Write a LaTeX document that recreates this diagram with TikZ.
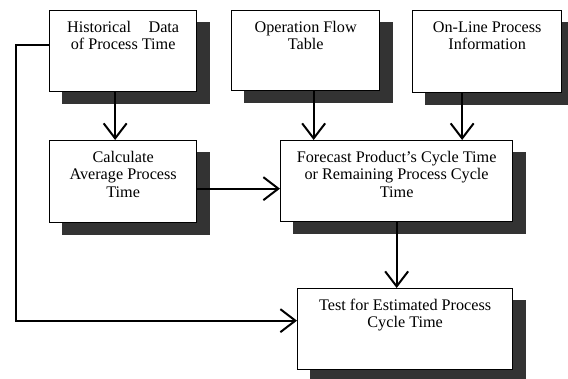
\documentclass[tikz,border=0pt]{standalone}
\usepackage{fontspec}
\setmainfont{Liberation Serif}
\usetikzlibrary{arrows.meta,backgrounds,calc}
\newcommand{\boxtext}[3]{\parbox[t][#2pt][t]{#1pt}{\centering\vspace*{9.5pt}\fontsize{16.2}{17.5}\selectfont\strut #3}}
\tikzset{
  flowbox/.style={draw=black, line width=1.3pt, fill=white, inner sep=0pt, anchor=north west},
  shadowfill/.style={fill=black!80},
  arr/.style={line width=2pt, -{Straight Barb[length=15pt,width=23pt,line width=2pt]}},
  plainline/.style={line width=2pt}
}
\begin{document}
\begin{tikzpicture}[x=1pt,y=-1pt]
\useasboundingbox (0,0) rectangle (568,378);
\node[flowbox] (b1) at (49,10) {\boxtext{147}{81}{\makebox[112pt][s]{Historical Data}\\of Process Time}};
\node[flowbox] (b2) at (231,10) {\boxtext{148}{80}{Operation Flow\\Table}};
\node[flowbox] (b3) at (412,10) {\boxtext{149}{82}{On-Line Process\\Information}};
\node[flowbox] (b4) at (49,140) {\boxtext{147}{82}{Calculate\\Average Process\\Time}};
\node[flowbox] (b5) at (280,140) {\boxtext{232}{81}{Forecast Product’s Cycle Time\\or Remaining Process Cycle\\Time}};
\node[flowbox] (b6) at (297,288) {\boxtext{215}{81}{Test for Estimated Process\\Cycle Time}};
\begin{scope}[on background layer]
  \foreach \b in {b1,b2,b3,b4,b5,b6}{
    \fill[shadowfill] ($(\b.south west)+(13,12)$) rectangle ($(\b.north east)+(13,12)$);
  }
\end{scope}
\coordinate (fbc) at (16,45);
\draw[arr] ([xshift=-8pt]b1.south) -- ([xshift=-8pt]b4.north);
\draw[arr] ([xshift=8pt]b2.south) -- ([xshift=8pt]b2.south |- b5.north);
\draw[arr] ([xshift=-25pt]b3.south) -- ([xshift=-25pt]b3.south |- b5.north);
\draw[arr] ([yshift=-7pt]b4.east) -- ([yshift=-7pt]b4.east -| b5.west);
\draw[arr] (b5.south) -- (b5.south |- b6.north);
\draw[arr] ([yshift=-35pt]b1.north west) -- (fbc) |- ([yshift=8.5pt]b6.west);
\end{tikzpicture}
\end{document}
